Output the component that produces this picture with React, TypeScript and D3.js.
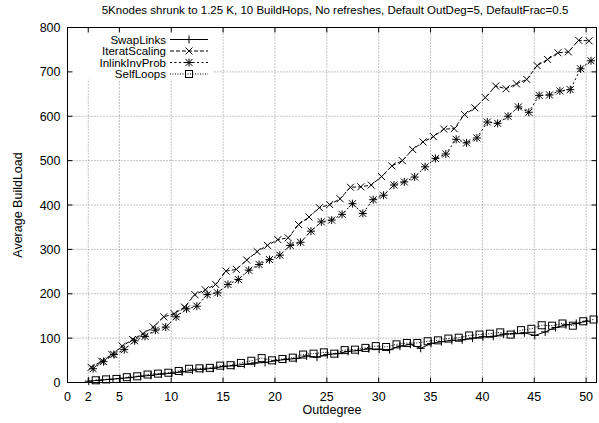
import * as d3 from "d3";

const TITLE =
  "5Knodes shrunk to 1.25 K, 10 BuildHops, No refreshes, Default OutDeg=5, DefaultFrac=0.5";

// nominal outdegree values (one point per value, per series)
const OUTDEGREES = [
  2, 3, 4, 5, 6, 7, 8, 9, 10, 11, 12, 13, 14, 15, 16, 17, 18, 19, 20, 21, 22, 23, 24, 25, 26,
  27, 28, 29, 30, 31, 32, 33, 34, 35, 36, 37, 38, 39, 40, 41, 42, 43, 44, 45, 46, 47, 48, 49, 50,
];

// measured outdegree sits a little to the right of the nominal value for some series
const SWAP_SHIFT = 0.05;
const ITERAT_SHIFT = 0.28;
const INLINK_SHIFT = 0.47;
const SELFLOOP_SHIFT = 0.72;

const SWAP_LINKS = [
  3, 5, 7, 9, 11, 14, 16, 19, 21, 24, 28, 30, 32, 36, 38, 41, 44, 45, 49, 52, 54, 60, 57, 63, 65,
  70, 72, 76, 75, 74, 82, 86, 77, 88, 92, 95, 96, 100, 103, 104, 109, 110, 112, 106, 114, 124,
  130, 133, 138,
];

const ITERAT_SCALING = [
  34, 48, 63, 82, 97, 110, 125, 148, 155, 170, 198, 209, 221, 251, 255, 276, 295, 309, 322, 326,
  356, 373, 394, 401, 414, 440, 441, 445, 464, 488, 500, 525, 542, 554, 571, 572, 604, 619, 642,
  668, 662, 673, 683, 714, 728, 743, 745, 771, 770,
];

const INLINK_INV_PROB = [
  31, 47, 63, 74, 94, 104, 118, 125, 148, 166, 172, 198, 202, 221, 232, 253, 266, 277, 287, 309,
  316, 341, 362, 366, 379, 403, 381, 412, 422, 445, 452, 463, 486, 505, 515, 548, 540, 551, 587,
  584, 600, 621, 609, 647, 648, 657, 660, 707, 725,
];

const SELF_LOOPS = [
  5, 7, 8, 12, 14, 18, 20, 22, 26, 31, 32, 33, 38, 39, 44, 49, 55, 50, 53, 56, 63, 65, 68, 65, 73,
  74, 78, 82, 80, 86, 89, 89, 93, 95, 99, 101, 106, 108, 110, 113, 108, 118, 121, 129, 128, 133,
  128, 138, 142,
];

const X_TICKS = [0, 2, 5, 10, 15, 20, 25, 30, 35, 40, 45, 50];
const Y_TICKS = [0, 100, 200, 300, 400, 500, 600, 700, 800];

const WIDTH = 599;
const HEIGHT = 423;
const FONT = "'Liberation Sans', Arial, Helvetica, sans-serif";
const FONT_SIZE = 12.5;
const SMALL_FONT = 11.5;

type Marker = "plus" | "cross" | "star" | "box";

interface Series {
  name: string;
  shift: number;
  values: number[];
  dash: string;
  marker: Marker;
}

const SERIES: Series[] = [
  { name: "SwapLinks", shift: SWAP_SHIFT, values: SWAP_LINKS, dash: "none", marker: "plus" },
  { name: "IteratScaling", shift: ITERAT_SHIFT, values: ITERAT_SCALING, dash: "4,2", marker: "cross" },
  { name: "InlinkInvProb", shift: INLINK_SHIFT, values: INLINK_INV_PROB, dash: "2,2.5", marker: "star" },
  { name: "SelfLoops", shift: SELFLOOP_SHIFT, values: SELF_LOOPS, dash: "1,1.5", marker: "box" },
];

function MarkerShape({ type, x, y }: { type: Marker; x: number; y: number }) {
  const s = 4;
  const c = 3.5;
  if (type === "box")
    return (
      <rect x={x - 3.5} y={y - 3.5} width={7} height={7} fill="none" stroke="#000" strokeWidth={1} />
    );
  let d = "";
  if (type === "plus" || type === "star") d += `M${x - s},${y}H${x + s}M${x},${y - s}V${y + s}`;
  if (type === "cross" || type === "star")
    d += `M${x - c},${y - c}L${x + c},${y + c}M${x - c},${y + c}L${x + c},${y - c}`;
  return <path d={d} fill="none" stroke="#000" strokeWidth={1} />;
}

export default function App() {
  const x = d3.scaleLinear().domain([0, 51]).range([67.5, 596.5]);
  const y = d3.scaleLinear().domain([0, 800]).range([382.5, 27.5]);
  const [x0, x1] = x.range();
  const [yb, yt] = y.range();

  const line = d3
    .line<[number, number]>()
    .x((d) => x(d[0]))
    .y((d) => y(d[1]));

  const legendRows = [39.5, 51, 62.5, 74];

  return (
    <svg
      width={WIDTH}
      height={HEIGHT}
      style={{ position: "absolute", left: 0, top: 0, background: "#fff" }}
      fontFamily={FONT}
      fontSize={FONT_SIZE}
    >
      <rect width={WIDTH} height={HEIGHT} fill="#fff" />

      {/* grid */}
      <g stroke="#8a8a8a" strokeWidth={1} strokeDasharray="1,2">
        {X_TICKS.filter((t) => t > 0).map((t) => (
          <line key={"gx" + t} x1={x(t)} x2={x(t)} y1={yb} y2={yt} />
        ))}
        {Y_TICKS.filter((t) => t > 0 && t < 800).map((t) => (
          <line key={"gy" + t} x1={x0} x2={x1} y1={y(t)} y2={y(t)} />
        ))}
      </g>

      {/* key box blanks the grid behind it */}
      <rect x={x0} y={yt} width={146} height={52} fill="#fff" />

      {/* ticks, mirrored */}
      <g stroke="#000" strokeWidth={1}>
        {X_TICKS.map((t) => (
          <g key={"tx" + t}>
            <line x1={x(t)} x2={x(t)} y1={yb} y2={yb - 5} />
            <line x1={x(t)} x2={x(t)} y1={yt} y2={yt + 5} />
          </g>
        ))}
        {Y_TICKS.map((t) => (
          <g key={"ty" + t}>
            <line x1={x0} x2={x0 + 5} y1={y(t)} y2={y(t)} />
            <line x1={x1} x2={x1 - 5} y1={y(t)} y2={y(t)} />
          </g>
        ))}
      </g>

      {/* tick labels */}
      {X_TICKS.map((t) => (
        <text key={"lx" + t} x={x(t)} y={yb + 18} textAnchor="middle">
          {t}
        </text>
      ))}
      {Y_TICKS.map((t) => (
        <text key={"ly" + t} x={x0 - 7} y={y(t) + 4.5} textAnchor="end">
          {t}
        </text>
      ))}

      {/* data */}
      {SERIES.map((s) => {
        const pts: [number, number][] = OUTDEGREES.map((o, i) => [o + s.shift, s.values[i]]);
        return (
          <g key={s.name}>
            <path
              d={line(pts) ?? ""}
              fill="none"
              stroke="#000"
              strokeWidth={1}
              strokeDasharray={s.dash}
            />
            {pts.map((p, i) => (
              <MarkerShape key={i} type={s.marker} x={x(p[0])} y={y(p[1])} />
            ))}
          </g>
        );
      })}

      {/* legend */}
      {SERIES.map((s, i) => (
        <g key={"leg" + s.name}>
          <text x={166} y={legendRows[i] + 4} textAnchor="end" fontSize={SMALL_FONT}>
            {s.name}
          </text>
          <line
            x1={170}
            x2={208}
            y1={legendRows[i]}
            y2={legendRows[i]}
            stroke="#000"
            strokeWidth={1}
            strokeDasharray={s.dash}
          />
          <MarkerShape type={s.marker} x={189} y={legendRows[i]} />
        </g>
      ))}

      {/* border */}
      <rect x={x0} y={yt} width={x1 - x0} height={yb - yt} fill="none" stroke="#000" strokeWidth={1} />

      {/* titles */}
      <text x={335} y={14} textAnchor="middle" fontSize={SMALL_FONT}>
        {TITLE}
      </text>
      <text x={x(25.5)} y={414} textAnchor="middle">
        Outdegree
      </text>
      <text transform={`translate(22,${(yb + yt) / 2}) rotate(-90)`} textAnchor="middle">
        Average BuildLoad
      </text>
    </svg>
  );
}
